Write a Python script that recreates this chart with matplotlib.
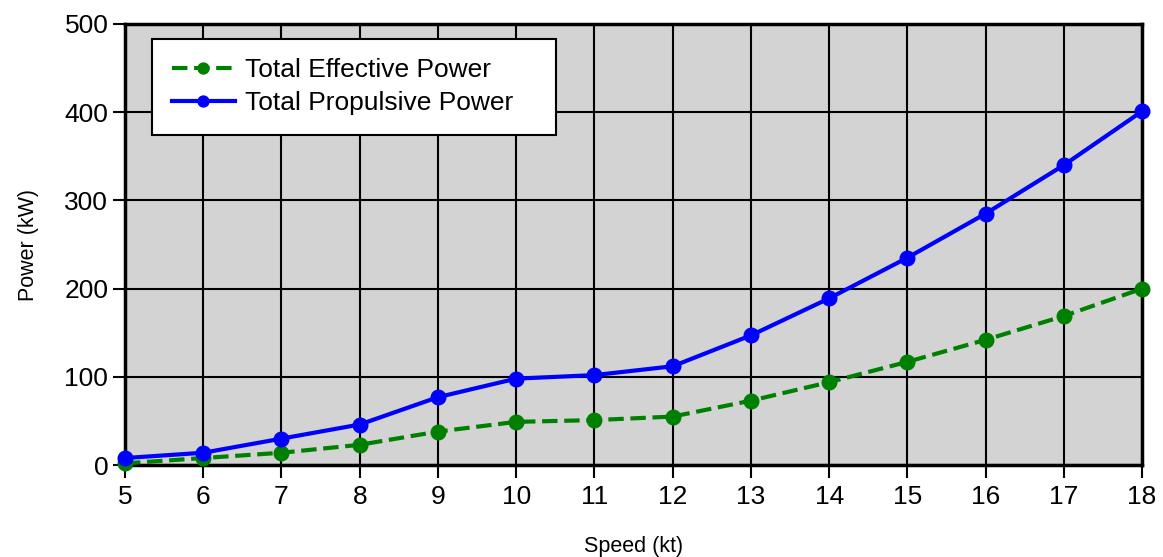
import numpy as np
from matplotlib import pyplot as plt

plt.rcParams['font.family'] = ['Liberation Sans', 'DejaVu Sans']

speed = [5, 6, 7, 8, 9, 10, 11, 12, 13, 14, 15, 16, 17, 18]
effective = [2, 8, 14, 23, 38, 49, 51, 55, 73, 94, 117, 142, 169, 200]
propulsive = [8, 14, 30, 46, 77, 98, 102, 112, 147, 189, 235, 285, 340, 401]

fig = plt.figure(figsize=(11.63, 5.57), dpi=100)
ax = fig.add_axes([0.1075, 0.165, 0.8745, 0.792])
ax.set_facecolor('#d3d3d3')

ax.plot(speed, effective, color='green', ls='--', lw=3, marker='o', ms=10.5,
        label='Total Effective Power', clip_on=False, zorder=3)
ax.plot(speed, propulsive, color='blue', ls='-', lw=3, marker='o', ms=10.5,
        label='Total Propulsive Power', clip_on=False, zorder=3)

ax.set_xlim(5, 18)
ax.set_ylim(0, 500)
ax.set_xticks(speed)
ax.set_yticks(np.arange(0, 501, 100))
ax.grid(True, color='black', lw=1.5)
ax.set_axisbelow(True)
for s in ax.spines.values():
    s.set_linewidth(2.5)
ax.tick_params(axis='both', labelsize=19, length=9, width=1.5, direction='out')
ax.tick_params(axis='x', pad=5)
ax.tick_params(axis='y', pad=3)

ax.set_xlabel('Speed (kt)', fontsize=15.5, labelpad=20)
ax.set_ylabel('Power (kW)', fontsize=15.5, labelpad=18)

# fixed-width legend box like the original
leg = ax.legend(loc='upper left', bbox_to_anchor=(0.0265, 0.1, 0.397, 0.866),
                mode='expand', fontsize=19, numpoints=1, handlelength=2.4,
                markerscale=0.75, fancybox=False, framealpha=1,
                edgecolor='black', borderpad=0.74, labelspacing=0.34,
                handletextpad=0.4, borderaxespad=0)
leg.get_frame().set_linewidth(1.5)

fig.savefig('out.png', dpi=100)
